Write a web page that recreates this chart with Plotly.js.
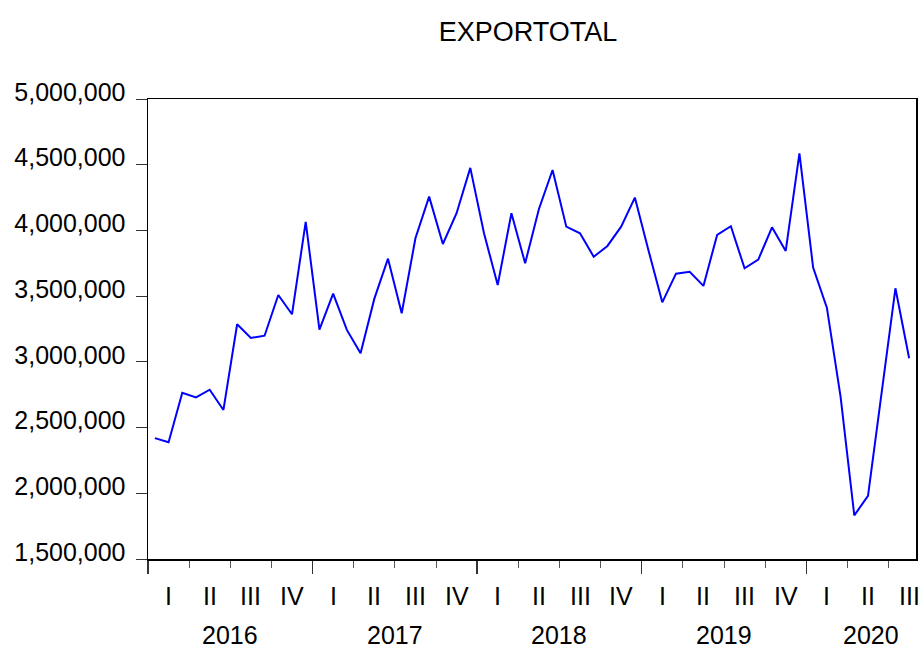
<!DOCTYPE html>
<html>
<head>
<meta charset="utf-8">
<script src="https://cdn.plot.ly/plotly-3.0.1.min.js"></script>
<style>html,body{margin:0;padding:0;background:#fff;}#chart{width:922px;height:649px;}</style>
</head>
<body>
<div id="chart"></div>
<script>
// ---- data ----
const chartTitle = "EXPORTOTAL";
const startYear = 2016;
const years = ["2016", "2017", "2018", "2019", "2020"];
const quarterNames = ["I", "II", "III", "IV"];
const exportTotal = [
  2420000, 2388000, 2765000, 2730000, 2788000, 2634000,
  3286000, 3182000, 3199000, 3509000, 3362000, 4065000,
  3245000, 3519000, 3243000, 3065000, 3479000, 3785000,
  3370000, 3940000, 4257000, 3897000, 4131000, 4476000,
  3978000, 3585000, 4131000, 3750000, 4161000, 4460000,
  4029000, 3978000, 3800000, 3882000, 4029000, 4250000,
  3846000, 3453000, 3671000, 3686000, 3578000, 3966000,
  4032000, 3712000, 3778000, 4024000, 3844000, 4587000,
  3717000, 3412000, 2735000, 1832000, 1980000, 2780000,
  3560000, 3027000
];
const monthLabels = exportTotal.map((_, i) =>
  (startYear + Math.floor(i / 12)) + "M" + String(i % 12 + 1).padStart(2, "0"));

// ---- build ----
const nObs = exportTotal.length;            // months shown
const xs = exportTotal.map((_, i) => i + 0.5);   // mid-month positions
const font = "Liberation Sans, Arial, sans-serif";

const annotations = [];
const nQuarters = Math.ceil(nObs / 3);
for (let q = 0; q < nQuarters; q++) {
  annotations.push({
    x: q * 3 + 1.5, y: 0, xref: "x", yref: "paper",
    text: quarterNames[q % 4], showarrow: false,
    xanchor: "center", yanchor: "middle", yshift: -36.5,
    font: {family: font, size: 25, color: "#000"}
  });
}
years.forEach((yr, k) => {
  const s = k * 12, e = Math.min(s + 12, nObs);
  let c = (s + e) / 2;
  if (e - s < 12) c += 0.7;  // partial last year label nudge
  annotations.push({
    x: c, y: 0, xref: "x", yref: "paper",
    text: yr, showarrow: false,
    xanchor: "center", yanchor: "middle", yshift: -75.5,
    font: {family: font, size: 25, color: "#000"}
  });
});

const trace = {
  x: xs, y: exportTotal, text: monthLabels,
  type: "scatter", mode: "lines",
  line: {color: "#0000FF", width: 2},
  hovertemplate: "%{text}: %{y:,}<extra></extra>"
};

const layout = {
  width: 922, height: 649,
  margin: {l: 148, r: 6, t: 98.5, b: 89.5, pad: 0},
  paper_bgcolor: "#fff", plot_bgcolor: "#fff",
  showlegend: false,
  title: {
    text: chartTitle, x: 528 / 922, xanchor: "center", xref: "container",
    y: 1 - 31.5 / 649, yanchor: "middle", yref: "container",
    font: {family: font, size: 27, color: "#000"}
  },
  xaxis: {
    range: [0, nObs], showgrid: false, zeroline: false,
    showline: true, mirror: true, linecolor: "#000", linewidth: 1.5,
    tickmode: "array", tickvals: years.map((_, k) => k * 12),
    ticks: "outside", ticklen: 13, tickwidth: 1.5, tickcolor: "#333",
    showticklabels: false,
    minor: {tickmode: "linear", tick0: 0, dtick: 3, ticks: "outside", ticklen: 7, tickwidth: 1, tickcolor: "#555", showgrid: false}
  },
  yaxis: {
    range: [1500000, 5000000], dtick: 500000, tick0: 1500000,
    tickformat: ",d", showgrid: false, zeroline: false,
    showline: true, mirror: true, linecolor: "#000", linewidth: 1.5,
    ticks: "outside", ticklen: 11, tickwidth: 1, tickcolor: "#333",
    ticklabelshift: -7, ticklabelstandoff: 5,
    tickfont: {family: font, size: 25, color: "#000"}
  },
  annotations: annotations
};

Plotly.newPlot("chart", [trace], layout, {displayModeBar: false, staticPlot: true});
</script>
</body>
</html>
